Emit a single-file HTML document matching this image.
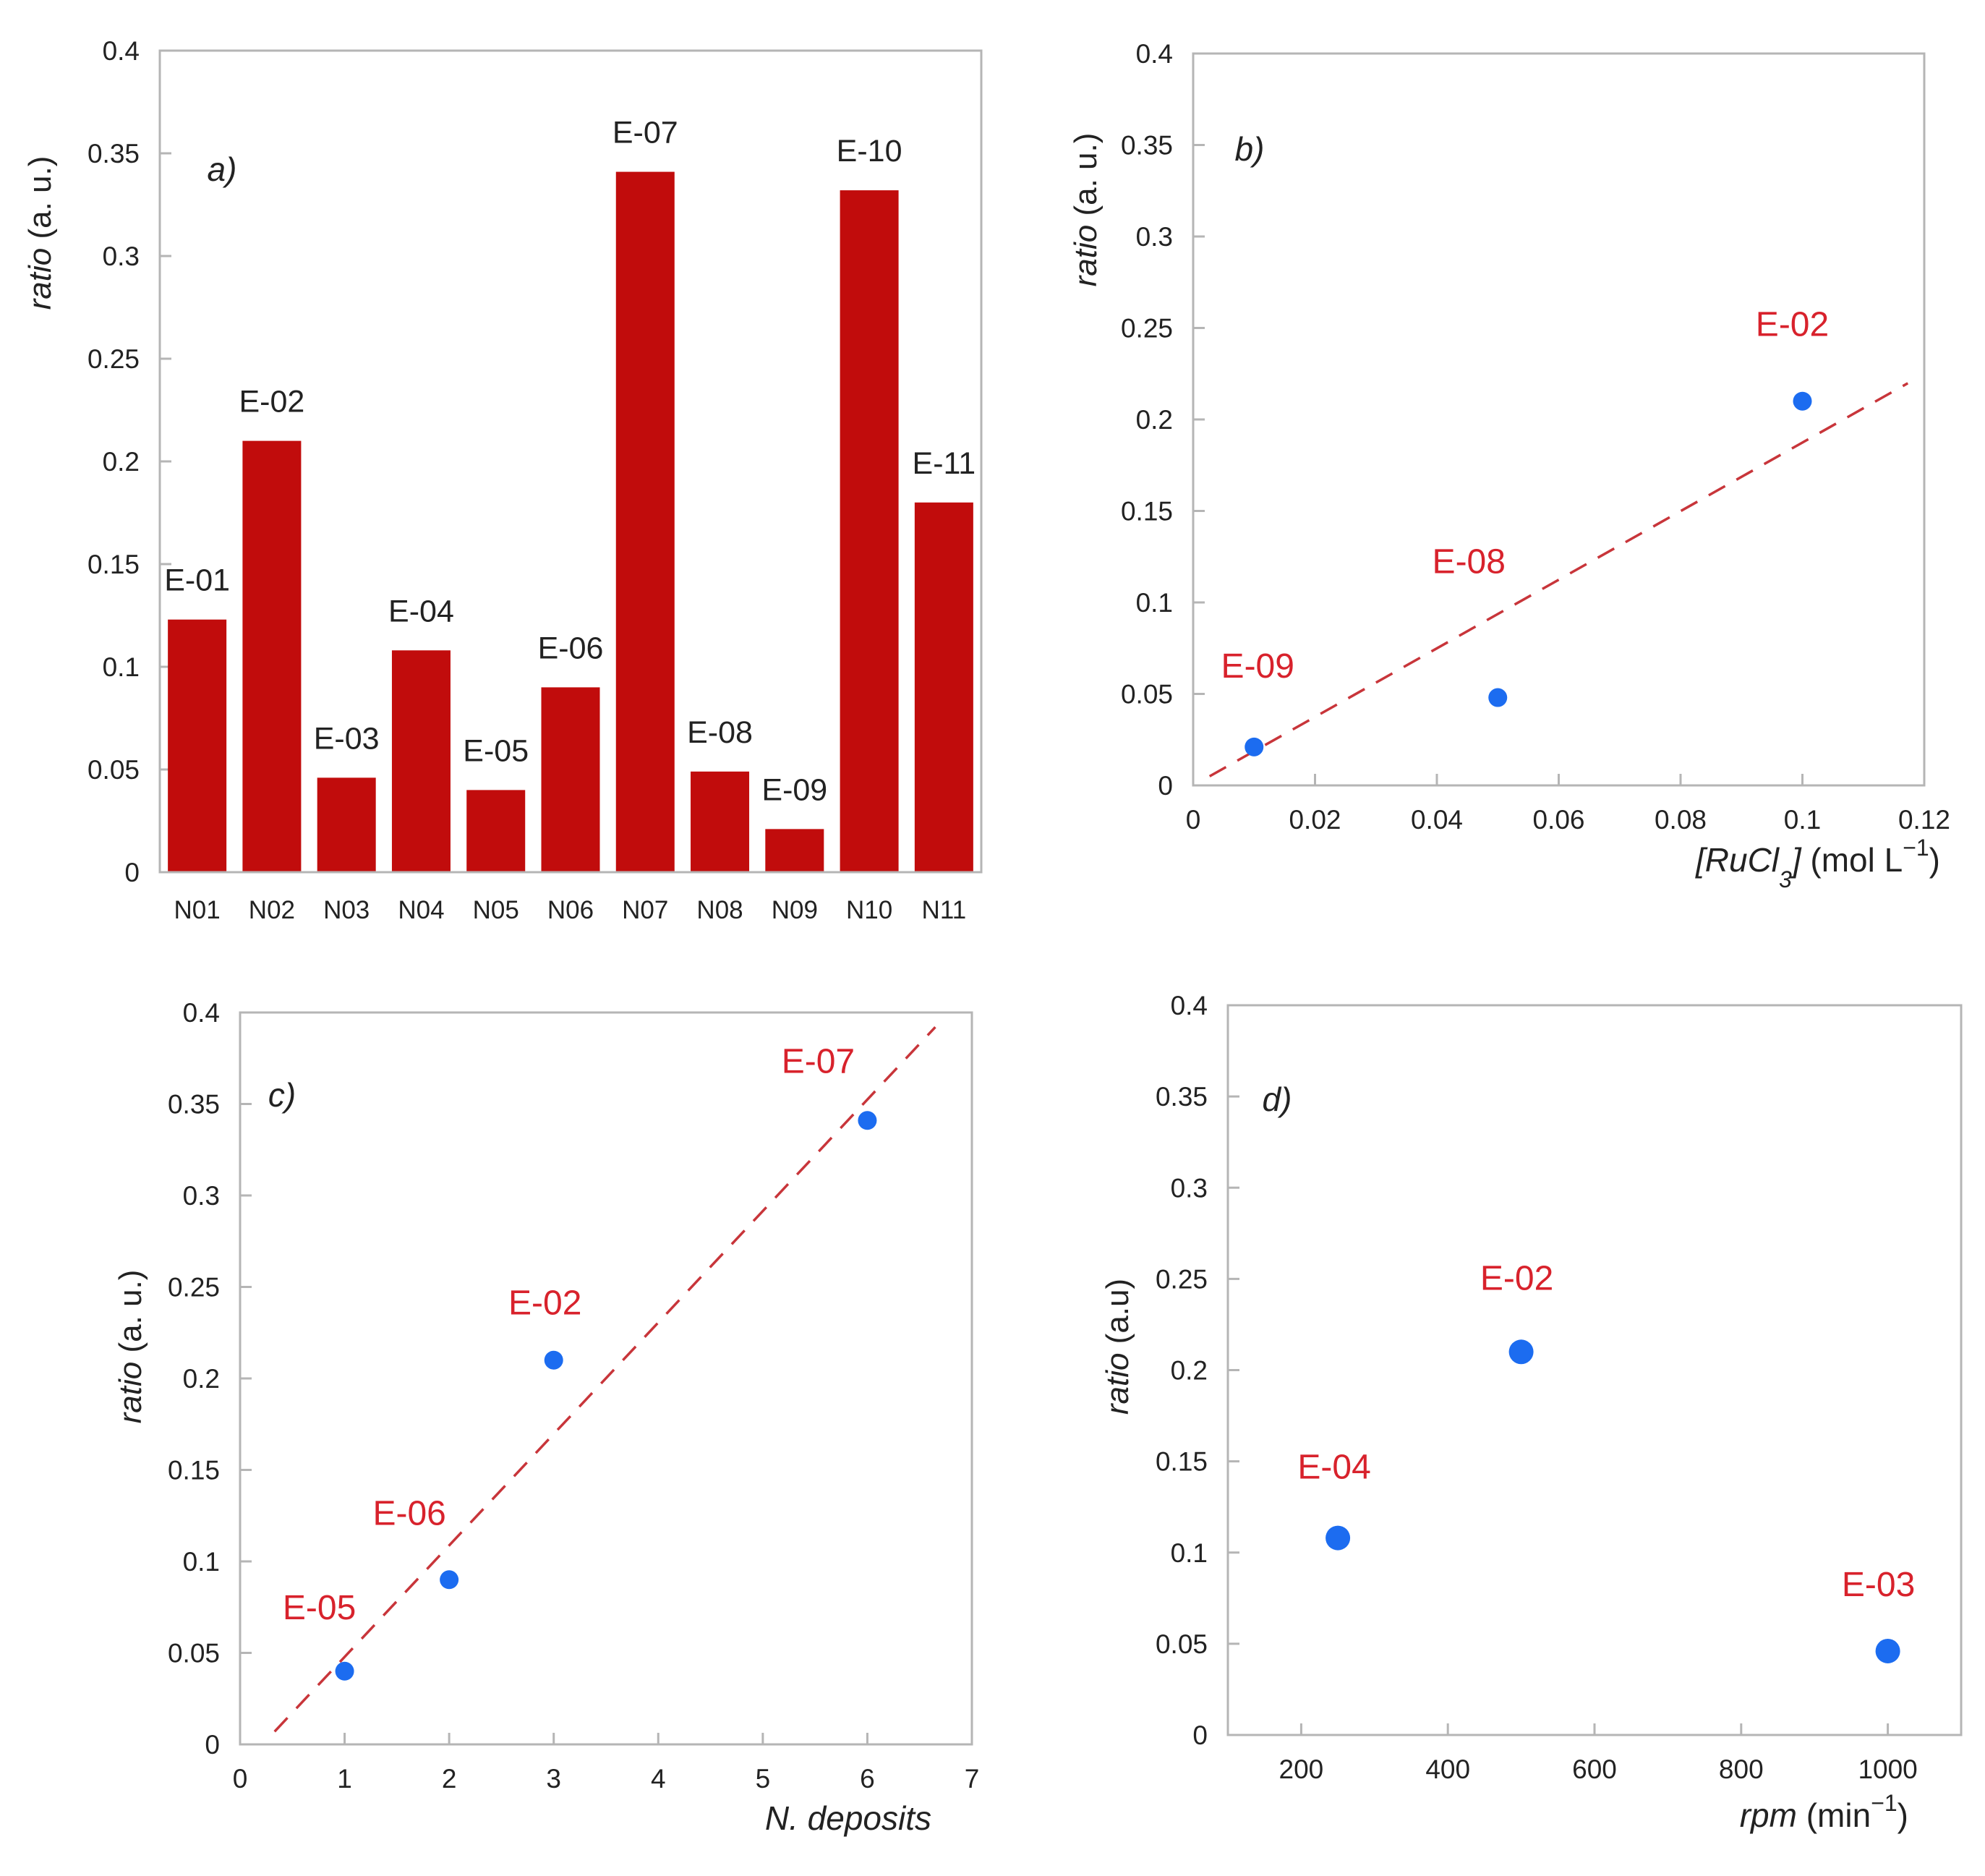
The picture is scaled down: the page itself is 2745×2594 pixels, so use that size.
<!DOCTYPE html>
<html><head><meta charset="utf-8"><style>
html,body{margin:0;padding:0;background:#fff;}
svg{display:block;font-family:"Liberation Sans",Arial,sans-serif;}
</style></head><body>
<svg id="fig" width="2745" height="2594" viewBox="0 0 2745 2594"></svg>
<script>
const barCats=["N01","N02","N03","N04","N05","N06","N07","N08","N09","N10","N11"];
const barLabels=["E-01","E-02","E-03","E-04","E-05","E-06","E-07","E-08","E-09","E-10","E-11"];
const barVals=[0.123,0.21,0.046,0.108,0.04,0.09,0.341,0.049,0.021,0.332,0.18];
const yTicks=[0,0.05,0.1,0.15,0.2,0.25,0.3,0.35,0.4];
const yTickLabels=["0","0.05","0.1","0.15","0.2","0.25","0.3","0.35","0.4"];
const bX=[0.01,0.05,0.1];
const bY=[0.021,0.048,0.21];
const bNames=["E-09","E-08","E-02"];
const bFit=[[0.0027,0.005],[0.1173,0.2198]];
const bXTicks=[0,0.02,0.04,0.06,0.08,0.1,0.12];
const bXTickLabels=["0","0.02","0.04","0.06","0.08","0.1","0.12"];
const cX=[1,2,3,6];
const cY=[0.04,0.09,0.21,0.341];
const cNames=["E-05","E-06","E-02","E-07"];
const cFit=[[0.33,0.007],[6.65,0.392]];
const cXTicks=[0,1,2,3,4,5,6,7];
const dX=[250,500,1000];
const dY=[0.108,0.21,0.046];
const dNames=["E-04","E-02","E-03"];
const dXTicks=[200,400,600,800,1000];

const NS="http://www.w3.org/2000/svg";
const svg=document.getElementById('fig');
function mk(tag,attrs,parent,text){const e=document.createElementNS(NS,tag);for(const k in attrs)e.setAttribute(k,attrs[k]);if(text!==undefined)e.textContent=text;(parent||svg).appendChild(e);return e;}
function lin(d0,d1,r0,r1){return v=>r0+(v-d0)/(d1-d0)*(r1-r0);}

function panel(name,L,R,T,B,xmin,xmax,xticks,xtl,letter,letterPos,ytitle,ytPos){
  const g=mk('g',{});
  
  
  const sx=lin(xmin,xmax,L,R), sy=lin(0,0.4,B,T);
  const fr=mk('rect',{x:L,y:T,width:R-L,height:B-T,fill:'none',stroke:'#b5b5b5','stroke-width':3},g);
  
  
  yTicks.forEach((v,i)=>{
    const y=sy(v);
    if(i>0&&i<yTicks.length-1){const t=mk('line',{x1:L,x2:L+16,y1:y,y2:y,stroke:'#b5b5b5','stroke-width':3},g);
      }
    const tl=mk('text',{x:L-28,y:y+13,'text-anchor':'end','font-size':37,fill:'#222'},g,yTickLabels[i]);
    
    
  });
  if(xticks){xticks.forEach((v,i)=>{
    const x=sx(v);
    if(x>L+2&&x<R-2){const t=mk('line',{x1:x,x2:x,y1:B,y2:B-16,stroke:'#b5b5b5','stroke-width':3},g);
      }
    const tl=mk('text',{x:x,y:B+60,'text-anchor':'middle','font-size':37,fill:'#222'},g,xtl[i]);
    
    
  });}
  const lt=mk('text',{x:letterPos[0],y:letterPos[1],'text-anchor':'middle','font-size':46,'font-style':'italic',fill:'#222'},g,letter);
  
  
  const yt=mk('text',{x:0,y:0,transform:`translate(${ytPos[0]},${ytPos[1]}) rotate(-90)`,'text-anchor':'middle','font-size':44,fill:'#222'},g);
  
  
  mk('tspan',{'font-style':'italic'},yt,'ratio');
  mk('tspan',{},yt,ytitle);
  return {g,sx,sy};
}

// Panel a
{
  const L=221,R=1357,T=70,B=1206;
  const p=panel('bar-chart-a',L,R,T,B,0,1,null,null,'a)',[307,250],' (a. u.)',[70,322]);
  const slot=(R-L)/barCats.length;
  barVals.forEach((v,i)=>{
    const cx=L+slot*(i+0.5), w=81, y=p.sy(v);
    const r=mk('rect',{x:cx-w/2,y:y,width:w,height:B-y-1.5,fill:'#c10c0c'},p.g);
    
    
    const lb=mk('text',{x:cx,y:y-40,'text-anchor':'middle','font-size':43,fill:'#222'},p.g,barLabels[i]);
    
    
    const xl=mk('text',{x:cx,y:B+64,'text-anchor':'middle','font-size':35,fill:'#222'},p.g,barCats[i]);
    
    
  });
}
function scatter(p,xs,ys,names,rad,offs){
  xs.forEach((v,i)=>{
    const c=mk('circle',{cx:p.sx(v),cy:p.sy(ys[i]),r:rad,fill:'#1c6cf0'},p.g);
    
    
    const t=mk('text',{x:p.sx(v)+offs[i][0],y:p.sy(ys[i])+offs[i][1],'text-anchor':'middle','font-size':48,fill:'#d8222c'},p.g,names[i]);
    
    
  });
}
function fit(p,f){
  const l=mk('line',{x1:p.sx(f[0][0]),y1:p.sy(f[0][1]),x2:p.sx(f[1][0]),y2:p.sy(f[1][1]),stroke:'#c8353a','stroke-width':3.5,'stroke-dasharray':'26 18'},p.g);
  
  
}
// Panel b
{
  const p=panel('scatter-b',1650,2661,74,1086,0,0.12,bXTicks,bXTickLabels,'b)',[1728,222],' (a. u.)',[1516,290]);
  fit(p,bFit);
  scatter(p,bX,bY,bNames,13,[[5,-96],[-40,-172],[-14,-90]]);
  const xt=mk('text',{x:2683,y:1205,'text-anchor':'end','font-size':46,fill:'#222'},p.g);
  
  
  mk('tspan',{'font-style':'italic'},xt,'[RuCl');
  mk('tspan',{'font-style':'italic','font-size':32,dy:22},xt,'3');
  mk('tspan',{'font-style':'italic',dy:-22},xt,']');
  mk('tspan',{},xt,' (mol L');
  mk('tspan',{'font-size':32,dy:-22},xt,'−1');
  mk('tspan',{dy:22},xt,')');
}
// Panel c
{
  const p=panel('scatter-c',332,1344,1400,2412,0,7,cXTicks,cXTicks.map(String),'c)',[390,1530],' (a. u.)',[195,1862]);
  fit(p,cFit);
  scatter(p,cX,cY,cNames,13,[[-35,-72],[-55,-76],[-12,-63],[-68,-66]]);
  const xt=mk('text',{x:1288,y:2530,'text-anchor':'end','font-size':46,'font-style':'italic',fill:'#222'},p.g,'N. deposits');
  
  
}
// Panel d
{
  const p=panel('scatter-d',1698,2712,1390,2399,100,1100,dXTicks,dXTicks.map(String),'d)',[1766,1536],' (a.u)',[1560,1862]);
  scatter(p,dX,dY,dNames,17,[[-5,-82],[-6,-86],[-13,-76]]);
  const xt=mk('text',{x:2639,y:2526,'text-anchor':'end','font-size':46,fill:'#222'},p.g);
  
  
  mk('tspan',{'font-style':'italic'},xt,'rpm');
  mk('tspan',{},xt,' (min');
  mk('tspan',{'font-size':32,dy:-22},xt,'−1');
  mk('tspan',{dy:22},xt,')');
}
</script>
</body></html>
